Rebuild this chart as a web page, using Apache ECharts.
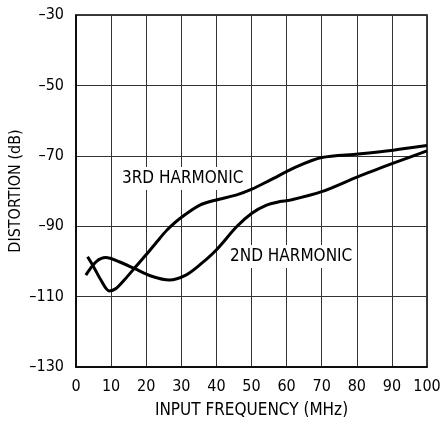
<!DOCTYPE html>
<html>
<head>
<meta charset="utf-8">
<script src="https://cdn.jsdelivr.net/npm/echarts@6/dist/echarts.min.js"></script>
<style>
html,body{margin:0;padding:0;background:#fff;}
#c{width:443px;height:424px;}
</style>
</head>
<body>
<div id="c"></div>
<script>
const xTicks = [0,10,20,30,40,50,60,70,80,90,100];
const yTicks = [-130,-110,-90,-70,-50,-30];
const harmonic3 = [[3.3,-98.7],[5,-101.5],[7.1,-105.3],[9.5,-108.4],[11.4,-107.7],[14,-105],[16.6,-102],[19.9,-98.2],[23.9,-93.4],[26,-91],[29.6,-87.8],[35.3,-84],[40.5,-82.4],[45.8,-81.1],[50.1,-79.5],[55.3,-76.9],[62.9,-73.1],[70,-70.5],[80.4,-69.5],[90.4,-68.4],[100,-67.1]];
const harmonic2 = [[2.8,-103.9],[5.7,-100.1],[8.5,-98.9],[12.3,-100.1],[16.6,-102],[21.8,-104.3],[26.6,-105.3],[31.3,-103.9],[35.5,-100.8],[40.1,-96.6],[45.8,-90.1],[50.1,-86.3],[54.3,-84],[58.1,-83],[61,-82.6],[70,-80.2],[80.4,-75.9],[90.4,-72.1],[100,-68.6]];
const seriesNames = ['3RD HARMONIC','2ND HARMONIC'];

const FONT = '"Liberation Sans Narrow","DejaVu Sans Condensed","Liberation Sans",sans-serif';
const chart = echarts.init(document.getElementById('c'));
const dash = v => String(v).replace('-', '\u2013');
chart.setOption({
  animation:false,
  backgroundColor:'#fff',
  grid:{left:76,right:16,top:15,bottom:57,show:true,borderColor:'#000',borderWidth:1.5,outerBoundsMode:'none',containLabel:false},
  xAxis:{type:'value',min:xTicks[0],max:xTicks[xTicks.length-1],interval:10,
    name:'INPUT FREQUENCY (MHz)',nameLocation:'middle',nameGap:35,nameMoveOverlap:false,
    nameTextStyle:{fontFamily:FONT,fontSize:17,color:'#000'},
    axisLine:{show:true,lineStyle:{color:'#000',width:1.5}},axisTick:{show:false},
    axisLabel:{fontFamily:FONT,fontSize:16,color:'#000',margin:12},
    splitLine:{show:true,lineStyle:{color:'#333',width:1}}},
  yAxis:{type:'value',min:yTicks[0],max:yTicks[yTicks.length-1],interval:20,
    name:'DISTORTION (dB)',nameLocation:'middle',nameGap:52,nameMoveOverlap:false,
    nameTextStyle:{fontFamily:FONT,fontSize:16,color:'#000'},
    axisLine:{show:true,lineStyle:{color:'#000',width:1.5}},axisTick:{show:false},
    axisLabel:{fontFamily:FONT,fontSize:16,color:'#000',margin:12,formatter:dash},
    splitLine:{show:true,lineStyle:{color:'#333',width:1}}},
  series:[
    {name:seriesNames[0],type:'line',data:harmonic3,smooth:0.3,showSymbol:false,lineStyle:{color:'#000',width:3},z:5},
    {name:seriesNames[1],type:'line',data:harmonic2,smooth:0.3,showSymbol:false,lineStyle:{color:'#000',width:3},z:5}
  ],
  graphic:[
    {type:'text',left:119,top:167,z:10,style:{text:seriesNames[0],font:'17px '+FONT,fill:'#000',backgroundColor:'#fff',padding:[3,3,3,3]}},
    {type:'text',left:227,top:245,z:10,style:{text:seriesNames[1],font:'17px '+FONT,fill:'#000',backgroundColor:'#fff',padding:[3,3,3,3]}}
  ]
});
</script>
</body>
</html>
